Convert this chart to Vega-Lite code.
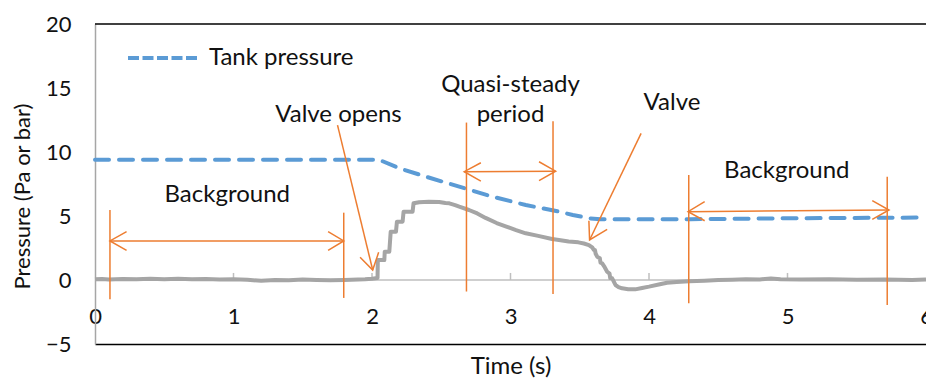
{
  "$schema": "https://vega.github.io/schema/vega-lite/v6.json",
  "width": 831,
  "height": 320,
  "autosize": {"type": "none"},
  "padding": {"left": 95, "top": 24, "right": 0, "bottom": 34},
  "background": "white",
  "config": {"view": {"stroke": null}, "font": "Lato"},
  "datasets": {
    "frame": [{"v": 20}],
    "zero": [{"v": 0}],
    "ticks": [{"t": 1, "v": 0}, {"t": 2, "v": 0}, {"t": 3, "v": 0}, {"t": 4, "v": 0}, {"t": 5, "v": 0}],
    "measured": [
      {"t": 0.0, "v": 0.05}, {"t": 0.05, "v": 0.08}, {"t": 0.1, "v": 0.04}, {"t": 0.2, "v": 0.07}, {"t": 0.3, "v": 0.05},
      {"t": 0.4, "v": 0.09}, {"t": 0.5, "v": 0.06}, {"t": 0.6, "v": 0.1}, {"t": 0.7, "v": 0.05}, {"t": 0.8, "v": 0.08},
      {"t": 0.9, "v": 0.04}, {"t": 1.0, "v": 0.06}, {"t": 1.1, "v": 0.02}, {"t": 1.2, "v": -0.06}, {"t": 1.3, "v": 0.0},
      {"t": 1.4, "v": -0.02}, {"t": 1.5, "v": 0.03}, {"t": 1.6, "v": 0.0}, {"t": 1.7, "v": -0.02}, {"t": 1.8, "v": 0.0},
      {"t": 1.9, "v": 0.03}, {"t": 1.95, "v": 0.05}, {"t": 2.0, "v": 0.1}, {"t": 2.04, "v": 0.15},
      {"t": 2.042, "v": 1.56}, {"t": 2.089, "v": 1.56}, {"t": 2.092, "v": 2.21}, {"t": 2.125, "v": 2.21},
      {"t": 2.135, "v": 3.77}, {"t": 2.173, "v": 3.77}, {"t": 2.18, "v": 4.56}, {"t": 2.221, "v": 4.56},
      {"t": 2.228, "v": 5.34}, {"t": 2.293, "v": 5.34}, {"t": 2.3, "v": 5.99}, {"t": 2.34, "v": 6.08},
      {"t": 2.41, "v": 6.12}, {"t": 2.485, "v": 6.1}, {"t": 2.53, "v": 6.02}, {"t": 2.558, "v": 5.99},
      {"t": 2.6, "v": 5.85}, {"t": 2.63, "v": 5.73}, {"t": 2.7, "v": 5.47}, {"t": 2.76, "v": 5.2},
      {"t": 2.82, "v": 4.85}, {"t": 2.9, "v": 4.45}, {"t": 2.97, "v": 4.17}, {"t": 3.04, "v": 3.9},
      {"t": 3.11, "v": 3.65}, {"t": 3.2, "v": 3.45}, {"t": 3.3, "v": 3.2}, {"t": 3.35, "v": 3.12},
      {"t": 3.42, "v": 3.0}, {"t": 3.49, "v": 2.94}, {"t": 3.53, "v": 2.85}, {"t": 3.566, "v": 2.73},
      {"t": 3.59, "v": 2.55}, {"t": 3.602, "v": 2.34}, {"t": 3.61, "v": 2.34}, {"t": 3.615, "v": 2.05},
      {"t": 3.626, "v": 1.82}, {"t": 3.645, "v": 1.7}, {"t": 3.65, "v": 1.35}, {"t": 3.662, "v": 1.3},
      {"t": 3.68, "v": 1.0}, {"t": 3.698, "v": 0.65}, {"t": 3.715, "v": 0.5}, {"t": 3.72, "v": 0.15},
      {"t": 3.734, "v": 0.13}, {"t": 3.745, "v": -0.1}, {"t": 3.758, "v": -0.39}, {"t": 3.78, "v": -0.55},
      {"t": 3.806, "v": -0.65}, {"t": 3.85, "v": -0.72}, {"t": 3.9, "v": -0.73}, {"t": 3.95, "v": -0.62},
      {"t": 4.0, "v": -0.52}, {"t": 4.07, "v": -0.35}, {"t": 4.13, "v": -0.21}, {"t": 4.2, "v": -0.15},
      {"t": 4.29, "v": -0.1}, {"t": 4.4, "v": -0.05}, {"t": 4.5, "v": 0.0}, {"t": 4.6, "v": 0.02},
      {"t": 4.7, "v": 0.05}, {"t": 4.8, "v": 0.04}, {"t": 4.88, "v": 0.12}, {"t": 4.95, "v": 0.05},
      {"t": 5.1, "v": 0.03}, {"t": 5.3, "v": 0.05}, {"t": 5.5, "v": 0.02}, {"t": 5.7, "v": 0.04},
      {"t": 5.9, "v": 0.0}, {"t": 6.0, "v": 0.03}
    ],
    "tank": [
      {"s": "Tank pressure", "t": 0.0, "v": 9.4}, {"s": "Tank pressure", "t": 2.05, "v": 9.4},
      {"s": "Tank pressure", "t": 2.2, "v": 8.72}, {"s": "Tank pressure", "t": 2.39, "v": 8.07},
      {"s": "Tank pressure", "t": 2.63, "v": 7.29}, {"s": "Tank pressure", "t": 2.87, "v": 6.51},
      {"s": "Tank pressure", "t": 3.11, "v": 5.86}, {"s": "Tank pressure", "t": 3.35, "v": 5.34},
      {"s": "Tank pressure", "t": 3.45, "v": 5.08}, {"s": "Tank pressure", "t": 3.57, "v": 4.82},
      {"s": "Tank pressure", "t": 3.65, "v": 4.75}, {"s": "Tank pressure", "t": 4.3, "v": 4.75},
      {"s": "Tank pressure", "t": 5.0, "v": 4.82}, {"s": "Tank pressure", "t": 6.0, "v": 4.88}
    ],
    "ann": [
      {"seg": "a1", "i": 0, "t": 0.108, "v": 5.47}, {"seg": "a1", "i": 1, "t": 0.108, "v": -1.5},
      {"seg": "a2", "i": 0, "t": 0.108, "v": 3.05}, {"seg": "a2", "i": 1, "t": 1.796, "v": 3.05},
      {"seg": "a3", "i": 0, "t": 0.228, "v": 3.78}, {"seg": "a3", "i": 1, "t": 0.108, "v": 3.05}, {"seg": "a3", "i": 2, "t": 0.228, "v": 2.32},
      {"seg": "a4", "i": 0, "t": 1.683, "v": 3.78}, {"seg": "a4", "i": 1, "t": 1.796, "v": 3.05}, {"seg": "a4", "i": 2, "t": 1.683, "v": 2.32},
      {"seg": "a5", "i": 0, "t": 1.796, "v": 5.26}, {"seg": "a5", "i": 1, "t": 1.796, "v": -1.4},
      {"seg": "a6", "i": 0, "t": 1.751, "v": 12.1}, {"seg": "a6", "i": 1, "t": 2.005, "v": 0.78},
      {"seg": "a7", "i": 0, "t": 1.914, "v": 1.77}, {"seg": "a7", "i": 1, "t": 2.005, "v": 0.78}, {"seg": "a7", "i": 2, "t": 2.048, "v": 2.16},
      {"seg": "a8", "i": 0, "t": 2.682, "v": 12.3}, {"seg": "a8", "i": 1, "t": 2.682, "v": -0.9},
      {"seg": "a9", "i": 0, "t": 3.307, "v": 12.4}, {"seg": "a9", "i": 1, "t": 3.307, "v": -1.1},
      {"seg": "a10", "i": 0, "t": 2.666, "v": 8.46}, {"seg": "a10", "i": 1, "t": 3.326, "v": 8.5},
      {"seg": "a11", "i": 0, "t": 2.786, "v": 9.16}, {"seg": "a11", "i": 1, "t": 2.666, "v": 8.46}, {"seg": "a11", "i": 2, "t": 2.786, "v": 7.73},
      {"seg": "a12", "i": 0, "t": 3.206, "v": 9.24}, {"seg": "a12", "i": 1, "t": 3.326, "v": 8.5}, {"seg": "a12", "i": 2, "t": 3.206, "v": 7.76},
      {"seg": "a13", "i": 0, "t": 3.943, "v": 11.46}, {"seg": "a13", "i": 1, "t": 3.571, "v": 3.125},
      {"seg": "a14", "i": 0, "t": 3.566, "v": 4.63}, {"seg": "a14", "i": 1, "t": 3.571, "v": 3.125}, {"seg": "a14", "i": 2, "t": 3.698, "v": 3.96},
      {"seg": "a15", "i": 0, "t": 4.287, "v": 8.2}, {"seg": "a15", "i": 1, "t": 4.287, "v": -1.82},
      {"seg": "a16", "i": 0, "t": 5.72, "v": 8.07}, {"seg": "a16", "i": 1, "t": 5.72, "v": -1.95},
      {"seg": "a17", "i": 0, "t": 4.282, "v": 5.34}, {"seg": "a17", "i": 1, "t": 5.733, "v": 5.47},
      {"seg": "a18", "i": 0, "t": 4.402, "v": 6.12}, {"seg": "a18", "i": 1, "t": 4.282, "v": 5.34}, {"seg": "a18", "i": 2, "t": 4.402, "v": 4.63},
      {"seg": "a19", "i": 0, "t": 5.612, "v": 6.2}, {"seg": "a19", "i": 1, "t": 5.733, "v": 5.47}, {"seg": "a19", "i": 2, "t": 5.612, "v": 4.74}
    ],
    "labels": [
      {"t": 0.955, "v": 6.64, "text": "Background"},
      {"t": 1.758, "v": 12.89, "text": "Valve opens"},
      {"t": 3.0, "v": 15.23, "text": "Quasi-steady"},
      {"t": 3.0, "v": 12.89, "text": "period"},
      {"t": 4.166, "v": 13.8, "text": "Valve"},
      {"t": 4.995, "v": 8.54, "text": "Background"}
    ]
  },
  "layer": [
    {
      "data": {"name": "frame"},
      "mark": {"type": "rule", "color": "#000000", "strokeWidth": 1.5},
      "encoding": {
        "y": {
          "field": "v", "type": "quantitative",
          "scale": {"domain": [-5, 20], "nice": false, "zero": false},
          "axis": {
            "title": "Pressure (Pa or bar)",
            "values": [-5, 0, 5, 10, 15, 20], "format": "d",
            "grid": false, "ticks": false,
            "domainColor": "#a6a6a6", "domainWidth": 1.5,
            "labelFont": "Lato", "labelFontSize": 22, "labelColor": "#111111", "labelPadding": 24,
            "titleFont": "Lato", "titleFontSize": 22, "titleFontWeight": "normal", "titleColor": "#111111",
            "titleX": -73, "titleY": 172, "titleBaseline": "middle"
          }
        }
      }
    },
    {
      "data": {"name": "zero"},
      "mark": {"type": "rule", "color": "#bfbfbf", "strokeWidth": 1.5},
      "encoding": {"y": {"field": "v", "type": "quantitative"}}
    },
    {
      "data": {"name": "ticks"},
      "mark": {"type": "rule", "color": "#bfbfbf", "strokeWidth": 1.5},
      "encoding": {
        "x": {
          "field": "t", "type": "quantitative",
          "scale": {"domain": [0, 6], "nice": false, "zero": false},
          "axis": {
            "title": "Time (s)",
            "values": [0, 1, 2, 3, 4, 5, 6], "format": "d",
            "grid": false, "ticks": false,
            "domainColor": "#000000", "domainWidth": 1.5,
            "labelFont": "Lato", "labelFontSize": 22, "labelColor": "#111111",
            "labelBaseline": "middle", "labelPadding": -28, "labelFlush": false, "labelOverlap": false,
            "titleFont": "Lato", "titleFontSize": 24, "titleFontWeight": "normal", "titleColor": "#111111",
            "titleY": 22, "titleBaseline": "middle"
          }
        },
        "y": {"field": "v", "type": "quantitative"},
        "y2": {"datum": 0.55}
      }
    },
    {
      "data": {"name": "measured"},
      "mark": {"type": "line", "color": "#a5a5a5", "strokeWidth": 4, "strokeJoin": "round"},
      "encoding": {
        "x": {"field": "t", "type": "quantitative"},
        "y": {"field": "v", "type": "quantitative"}
      }
    },
    {
      "data": {"name": "tank"},
      "mark": {"type": "line", "strokeWidth": 4, "strokeDash": [14, 10], "strokeCap": "round"},
      "encoding": {
        "x": {"field": "t", "type": "quantitative"},
        "y": {"field": "v", "type": "quantitative"},
        "color": {
          "field": "s", "type": "nominal",
          "scale": {"range": ["#5b9bd5"]},
          "legend": {
            "orient": "none", "legendX": 31, "legendY": -3, "title": null, "padding": 0,
            "symbolType": "stroke", "symbolSize": 4900, "symbolStrokeWidth": 4, "symbolDash": [11, 3.5],
            "labelFont": "Lato", "labelFontSize": 24, "labelColor": "#111111", "labelOffset": 9, "labelLimit": 400
          }
        }
      }
    },
    {
      "data": {"name": "ann"},
      "mark": {"type": "line", "color": "#ed7d31", "strokeWidth": 1.5},
      "encoding": {
        "x": {"field": "t", "type": "quantitative"},
        "y": {"field": "v", "type": "quantitative"},
        "detail": {"field": "seg", "type": "nominal"},
        "order": {"field": "i", "type": "quantitative"}
      }
    },
    {
      "data": {"name": "labels"},
      "mark": {"type": "text", "font": "Lato", "fontSize": 24, "color": "#111111", "align": "center", "baseline": "middle"},
      "encoding": {
        "x": {"field": "t", "type": "quantitative"},
        "y": {"field": "v", "type": "quantitative"},
        "text": {"field": "text", "type": "nominal"}
      }
    }
  ]
}
